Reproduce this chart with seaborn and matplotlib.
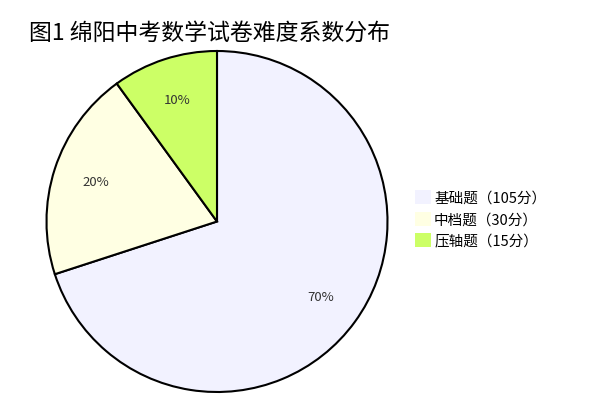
import matplotlib
matplotlib.use("Agg")
import matplotlib.pyplot as plt
import seaborn as sns

# data
categories = ['基础题（105分）', '中档题（30分）', '压轴题（15分）']
shares = [70, 20, 10]
slice_colors = ['#f2f2ff', '#ffffe3', '#ccff66']
title = '图1 绵阳中考数学试卷难度系数分布'

sns.set_theme(style='white')
plt.rcParams['font.family'] = ['Noto Sans CJK SC', 'DejaVu Sans']

fig = plt.figure(figsize=(6.05, 4.14), dpi=100)
ax = fig.add_axes([46 / 605, 21 / 414, 342 / 605, 341 / 414])

palette = sns.color_palette(slice_colors)
wedges, texts, autotexts = ax.pie(
    shares, colors=palette, startangle=90, counterclock=False,
    autopct='%d%%', pctdistance=0.75,
    wedgeprops={'edgecolor': 'black', 'linewidth': 1.5},
    textprops={'fontsize': 9.5, 'color': '#333333'})
ax.set_xlim(-1, 1)
ax.set_ylim(-1, 1)
ax.set_aspect('equal')
ax.axis('off')

fig.text(29 / 605, 1 - 33 / 414, title, fontsize=16.5, va='center', ha='left', color='black')

leg = fig.legend(wedges, categories, loc='center left', bbox_to_anchor=(402 / 605, 1 - 220 / 414),
                 frameon=False, fontsize=10.5, handlelength=1.1, handleheight=1.1,
                 handletextpad=0.2, labelspacing=0.45)
for h in leg.legend_handles:
    h.set_edgecolor('none')
    h.set_linewidth(0)
for t in leg.get_texts():
    t.set_color('black')

fig.savefig('out.png', dpi=100)
